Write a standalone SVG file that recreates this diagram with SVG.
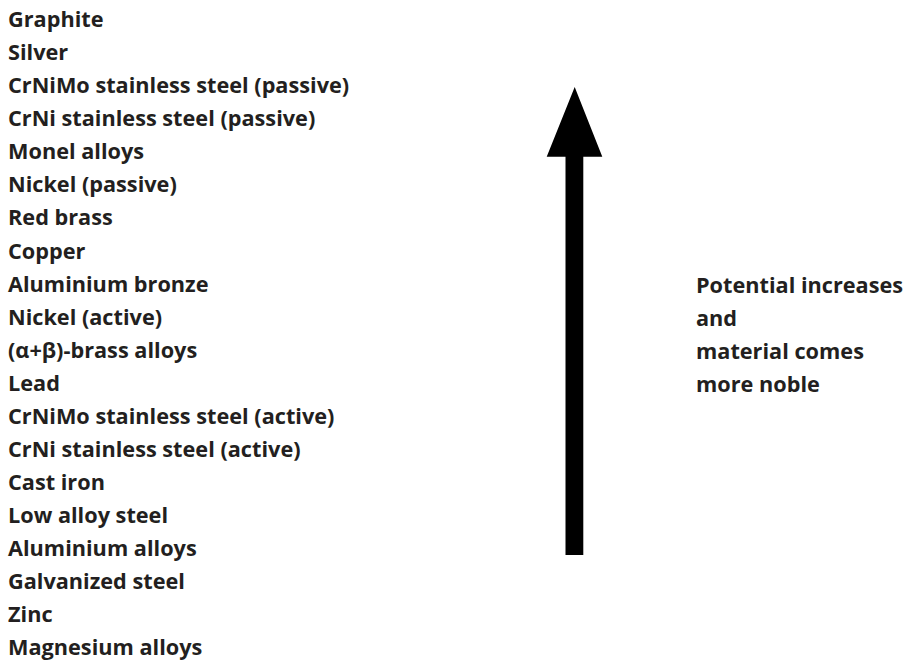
<svg xmlns="http://www.w3.org/2000/svg" width="907" height="662" viewBox="0 0 907 662">
<style>
text{font-family:"Open Sans","Noto Sans","Liberation Sans",sans-serif;font-weight:bold;font-size:21.7px;fill:#231f20}
</style>
<rect width="907" height="662" fill="#fff"/>
<g id="series">
<text x="8" y="27">Graphite</text>
<text x="8" y="60.1">Silver</text>
<text x="8" y="93.1">CrNiMo stainless steel (passive)</text>
<text x="8" y="126.2">CrNi stainless steel (passive)</text>
<text x="8" y="159.3">Monel alloys</text>
<text x="8" y="192.3">Nickel (passive)</text>
<text x="8" y="225.4">Red brass</text>
<text x="8" y="258.5">Copper</text>
<text x="8" y="291.6">Aluminium bronze</text>
<text x="8" y="324.6">Nickel (active)</text>
<text x="8" y="357.7">(α+β)-brass alloys</text>
<text x="8" y="390.8">Lead</text>
<text x="8" y="423.8">CrNiMo stainless steel (active)</text>
<text x="8" y="456.9">CrNi stainless steel (active)</text>
<text x="8" y="490">Cast iron</text>
<text x="8" y="523">Low alloy steel</text>
<text x="8" y="556.1">Aluminium alloys</text>
<text x="8" y="589.2">Galvanized steel</text>
<text x="8" y="622.2">Zinc</text>
<text x="8" y="655.3">Magnesium alloys</text>
</g>
<g id="connectors">
<polygon points="574.7,87 602.3,156.7 583.3,156.7 583.3,555 565.5,555 565.5,156.7 546.7,156.7" fill="#000"/>
</g>
<g id="label">
<text x="696" y="293.3">Potential increases</text>
<text x="696" y="326.3">and</text>
<text x="696" y="359.3">material comes</text>
<text x="696" y="392.3">more noble</text>
</g>
</svg>
